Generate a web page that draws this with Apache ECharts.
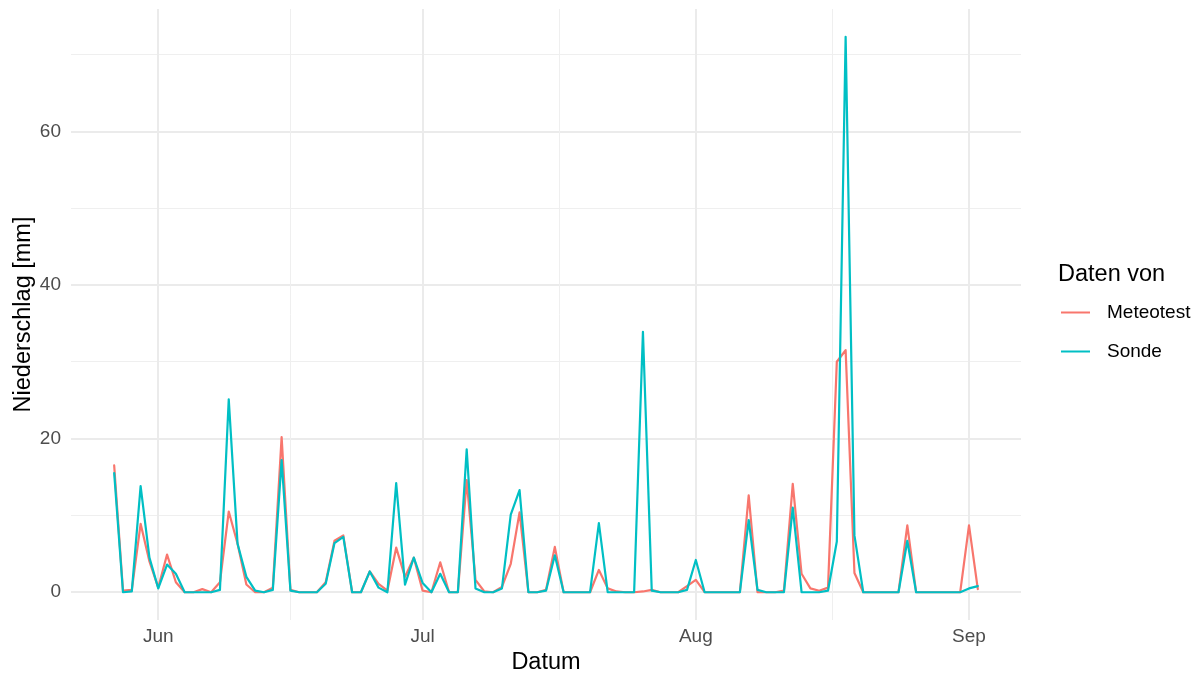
<!DOCTYPE html>
<html>
<head>
<meta charset="utf-8">
<script src="https://cdn.jsdelivr.net/npm/echarts@6/dist/echarts.min.js"></script>
<style>
  html, body { margin: 0; padding: 0; background: #ffffff; }
  #chart { width: 1198px; height: 673px; }
</style>
</head>
<body>
<div id="chart"></div>
<script>
// ---- data (daily precipitation, mm), first day = startDate ----
const startDate = [2022, 5, 27]; // year, month (1-based), day
const seriesNames = ['Meteotest', 'Sonde'];
const meteotest = [
  16.5, 0.2, 0.3, 8.9, 4.0,                                   // May 27-31
  0.6, 4.9, 1.3, 0, 0, 0.4, 0, 1.3, 10.5, 6.3,                // Jun 1-10
  1.0, 0, 0, 0.6, 20.2, 0.3, 0, 0, 0, 1.3,                    // Jun 11-20
  6.7, 7.4, 0, 0, 2.7, 1.1, 0.2, 5.8, 2.0, 4.5,               // Jun 21-30
  0.2, 0, 3.9, 0, 0, 14.6, 1.6, 0.1, 0, 0.7,                  // Jul 1-10
  3.7, 10.4, 0, 0, 0.3, 5.9, 0, 0, 0, 0,                      // Jul 11-20
  2.9, 0.5, 0.1, 0, 0, 0.1, 0.3, 0, 0, 0, 0.8,                // Jul 21-31
  1.6, 0, 0, 0, 0, 0, 12.6, 0, 0, 0,                          // Aug 1-10
  0.2, 14.1, 2.4, 0.5, 0.2, 0.6, 30.0, 31.5, 2.5, 0,          // Aug 11-20
  0, 0, 0, 0, 8.7, 0, 0, 0, 0, 0, 0,                          // Aug 21-31
  8.7, 0.4                                                    // Sep 1-2
];
const sonde = [
  15.5, 0, 0.1, 13.8, 4.5,
  0.5, 3.6, 2.4, 0, 0, 0, 0, 0.3, 25.1, 6.3,
  2.0, 0.2, 0, 0.3, 17.2, 0.2, 0, 0, 0, 1.1,
  6.4, 7.2, 0, 0, 2.7, 0.6, 0, 14.2, 1.0, 4.5,
  1.2, 0, 2.4, 0, 0, 18.6, 0.5, 0, 0, 0.5,
  10.1, 13.3, 0, 0, 0.2, 4.8, 0, 0, 0, 0,
  9.0, 0, 0, 0, 0, 33.9, 0.2, 0, 0, 0, 0.3,
  4.2, 0, 0, 0, 0, 0, 9.4, 0.3, 0, 0,
  0, 11.0, 0, 0, 0, 0.2, 6.6, 72.3, 7.4, 0,
  0, 0, 0, 0, 6.7, 0, 0, 0, 0, 0, 0,
  0.5, 0.8
];
const xTickDates = [[2022, 6, 1], [2022, 7, 1], [2022, 8, 1], [2022, 9, 1]];
const xTickLabels = ['Jun', 'Jul', 'Aug', 'Sep'];
const xMinorDates = [[2022, 6, 16, 0], [2022, 7, 16, 12], [2022, 8, 16, 12]];
const yTicks = [0, 20, 40, 60];
const yMinorTicks = [10, 30, 50, 70];
const colors = ['#F8766D', '#00BFC4'];

// ---- helpers ----
const ts = (a) => new Date(a[0], a[1] - 1, a[2], a[3] || 0).getTime();
const dayTs = (i) => new Date(startDate[0], startDate[1] - 1, startDate[2] + i).getTime();
const toPairs = (arr) => arr.map((v, i) => [dayTs(i), v]);

const xMajor = xTickDates.map(ts);
const xMinor = xMinorDates.map(ts);
const firstT = dayTs(0), lastT = dayTs(meteotest.length - 1);
const xPad = (lastT - firstT) * 0.05;
const allVals = meteotest.concat(sonde);
const yLo = Math.min(0, Math.min.apply(null, allVals));
const yHi = Math.max.apply(null, allVals);
const yPad = (yHi - yLo) * 0.05;

const FONT = '"Liberation Sans", Arial, sans-serif';
const chart = echarts.init(document.getElementById('chart'), null, { renderer: 'canvas' });

const option = {
  animation: false,
  backgroundColor: '#ffffff',
  textStyle: { fontFamily: FONT },
  color: colors,
  grid: { left: 71, right: 177, top: 9, bottom: 53, containLabel: false, outerBoundsMode: 'none' },
  xAxis: [
    {
      type: 'value',
      min: firstT - xPad,
      max: lastT + xPad,
      axisLine: { show: false },
      axisTick: { show: false, customValues: xMajor },
      axisLabel: {
        customValues: xMajor,
        formatter: (v) => {
          let k = -1;
          xMajor.forEach((m, j) => { if (Math.abs(m - v) < 3600000) k = j; });
          return k >= 0 ? xTickLabels[k] : '';
        },
        color: '#4D4D4D', fontSize: 19, fontFamily: FONT, margin: 7
      },
      splitLine: { show: true, lineStyle: { color: '#EBEBEB', width: 2 } },
      name: 'Datum', nameLocation: 'middle', nameGap: 31, nameMoveOverlap: false,
      nameTextStyle: { color: '#000000', fontSize: 23.5, fontFamily: FONT }
    },
    {
      type: 'value',
      gridIndex: 0,
      position: 'bottom',
      min: firstT - xPad,
      max: lastT + xPad,
      axisLine: { show: false },
      axisTick: { show: false, customValues: xMinor },
      axisLabel: { show: false, customValues: xMinor },
      splitLine: { show: true, lineStyle: { color: '#EFEFEF', width: 1 } }
    }
  ],
  yAxis: [
    {
      type: 'value',
      min: yLo - yPad,
      max: yHi + yPad,
      axisLine: { show: false },
      axisTick: { show: false, customValues: yTicks },
      axisLabel: {
        customValues: yTicks,
        color: '#4D4D4D', fontSize: 19, fontFamily: FONT, margin: 10
      },
      splitLine: { show: true, lineStyle: { color: '#EBEBEB', width: 2 } },
      name: 'Niederschlag [mm]', nameLocation: 'middle', nameGap: 35, nameMoveOverlap: false,
      nameTextStyle: { color: '#000000', fontSize: 23.5, fontFamily: FONT }
    },
    {
      type: 'value',
      gridIndex: 0,
      position: 'left',
      min: yLo - yPad,
      max: yHi + yPad,
      axisLine: { show: false },
      axisTick: { show: false, customValues: yMinorTicks },
      axisLabel: { show: false, customValues: yMinorTicks },
      splitLine: { show: true, lineStyle: { color: '#EFEFEF', width: 1 } }
    }
  ],
  legend: {
    data: seriesNames,
    orient: 'vertical',
    left: 1061,
    top: 303,
    padding: 0,
    icon: 'rect',
    itemWidth: 29,
    itemHeight: 2,
    itemGap: 20,
    textStyle: { fontSize: 19, color: '#000000', fontFamily: FONT, padding: [0, 0, 0, 12] }
  },
  graphic: [
    {
      type: 'text',
      left: 1058,
      top: 263,
      style: { text: 'Daten von', fontSize: 23.5, fontFamily: FONT, fill: '#000000' }
    }
  ],
  series: [meteotest, sonde].map((arr, k) => ({
    name: seriesNames[k],
    type: 'line',
    xAxisIndex: 0,
    yAxisIndex: 0,
    data: toPairs(arr),
    symbol: 'none',
    showSymbol: false,
    lineStyle: { color: colors[k], width: 2.2, join: 'round', cap: 'round' },
    itemStyle: { color: colors[k] },
    emphasis: { disabled: true },
    z: 3 + k
  }))
};
chart.setOption(option);
</script>
</body>
</html>
